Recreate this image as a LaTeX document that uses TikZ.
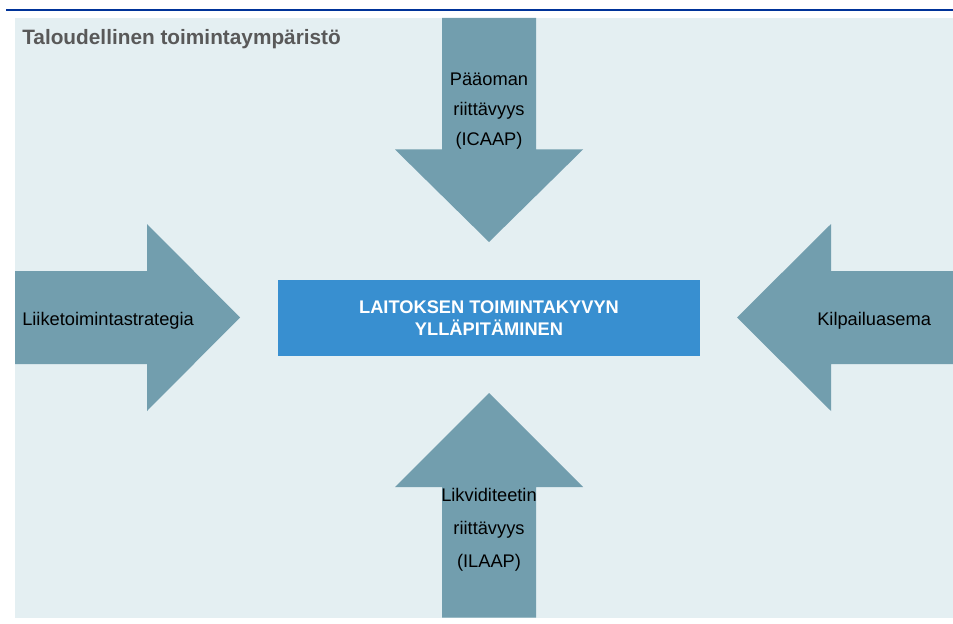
\documentclass[tikz,border=0pt]{standalone}
\usepackage{fontspec}
\setmainfont{Liberation Sans}
\definecolor{hinter}{RGB}{228,239,242}
\definecolor{pfeilfarbe}{RGB}{114,158,174}
\definecolor{kasten}{RGB}{56,143,208}
\definecolor{linie}{RGB}{0,51,153}
\definecolor{titel}{RGB}{89,89,89}
\tikzset{
  pfeil/.style={fill=pfeilfarbe},
  schrift/.style={inner sep=0pt, align=center, font=\fontsize{13.7}{22.5}\selectfont}
}
\begin{document}
\begin{tikzpicture}[x=0.75pt, y=-0.75pt]
  \useasboundingbox (0,0) rectangle (953,624);
  \fill[hinter] (15,18) rectangle (953,617.5);
  \fill[linie] (6,8.6) rectangle (953,10.9);

  \fill[pfeil] (442,18) -- (536,18) -- (536,149.5) -- (583,149.5) -- (489,242) -- (395,149.5) -- (442,149.5) -- cycle;
  \fill[pfeil] (442,617.5) -- (536,617.5) -- (536,487) -- (583,487) -- (489,393) -- (395,487) -- (442,487) -- cycle;
  \fill[pfeil] (15,271) -- (147,271) -- (147,224) -- (240,317.5) -- (147,411) -- (147,364) -- (15,364) -- cycle;
  \fill[pfeil] (953,271) -- (831,271) -- (831,224) -- (737,317.5) -- (831,411) -- (831,364) -- (953,364) -- cycle;

  \node (T) at (22,45) [anchor=base west, inner sep=0pt, text=titel, font=\fontsize{15.6}{18}\selectfont\bfseries] {Taloudellinen toimintaympäristö};
  \node (M) at (489,318) [fill=kasten, text=white, minimum width=316.5pt, minimum height=56.8pt, align=center, font=\fontsize{13.7}{16.3}\selectfont\bfseries] {LAITOKSEN TOIMINTAKYVYN\\YLLÄPITÄMINEN};

  \node (O) at (489,111) [schrift] {Pääoman\\riittävyys\\(ICAAP)};
  \node (U) at (489,530) [schrift, font=\fontsize{13.7}{24.7}\selectfont] {Likviditeetin\\riittävyys\\(ILAAP)};
  \node (L) at (22,325) [schrift, anchor=base west] {Liiketoimintastrategia};
  \node (R) at (817,325) [schrift, anchor=base west] {Kilpailuasema};
\end{tikzpicture}
\end{document}
